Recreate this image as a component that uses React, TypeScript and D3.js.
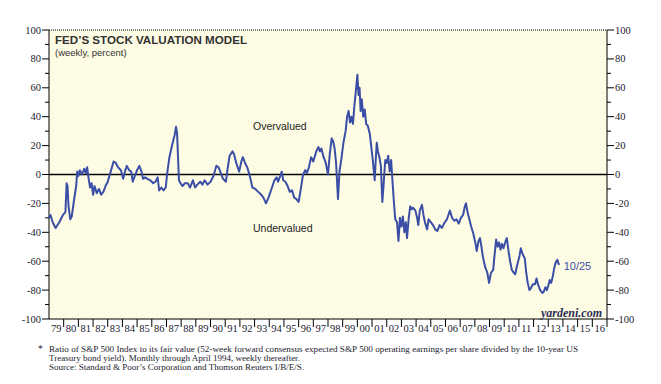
import React from 'react';
import * as d3 from 'd3';

// Fed's stock valuation model: ratio of S&P 500 to fair value, percent
const dates = [
  1979.0, 1979.1, 1979.25, 1979.45, 1979.7, 1979.95, 1980.12, 1980.2, 1980.26, 1980.33,
  1980.45, 1980.55, 1980.7, 1980.85, 1980.92, 1981.0, 1981.1, 1981.25, 1981.4, 1981.5,
  1981.6, 1981.7, 1981.8, 1981.9, 1982.0, 1982.1, 1982.25, 1982.4, 1982.55, 1982.7,
  1982.85, 1983.0, 1983.2, 1983.4, 1983.55, 1983.7, 1983.9, 1984.05, 1984.2, 1984.3,
  1984.45, 1984.6, 1984.7, 1984.85, 1985.0, 1985.15, 1985.3, 1985.4, 1985.55, 1985.7,
  1985.9, 1986.1, 1986.25, 1986.4, 1986.5, 1986.65, 1986.8, 1986.95, 1987.05, 1987.2,
  1987.4, 1987.55, 1987.65, 1987.72, 1987.85, 1987.95, 1988.1, 1988.25, 1988.45, 1988.6,
  1988.8, 1988.95, 1989.1, 1989.3, 1989.45, 1989.6, 1989.8, 1990.0, 1990.2, 1990.4,
  1990.55, 1990.7, 1990.85, 1991.05, 1991.15, 1991.3, 1991.5, 1991.6, 1991.75, 1991.95,
  1992.1, 1992.2, 1992.35, 1992.5, 1992.7, 1992.85, 1993.05, 1993.25, 1993.45, 1993.6,
  1993.78, 1993.95, 1994.15, 1994.35, 1994.5, 1994.6, 1994.75, 1994.85, 1994.95, 1995.1,
  1995.25, 1995.4, 1995.55, 1995.7, 1995.85, 1996.0, 1996.15, 1996.3, 1996.45, 1996.55,
  1996.7, 1996.85, 1997.0, 1997.2, 1997.35, 1997.45, 1997.55, 1997.7, 1997.85, 1998.0,
  1998.12, 1998.25, 1998.35, 1998.45, 1998.55, 1998.68, 1998.78, 1998.9, 1999.05, 1999.2,
  1999.3, 1999.4, 1999.5, 1999.6, 1999.7, 1999.8, 1999.9, 2000.0, 2000.08, 2000.15,
  2000.22, 2000.3, 2000.4, 2000.5, 2000.6, 2000.7, 2000.85, 2000.95, 2001.05, 2001.18,
  2001.25, 2001.32, 2001.4, 2001.5, 2001.6, 2001.7, 2001.78, 2001.9, 2002.0, 2002.1,
  2002.2, 2002.3, 2002.4, 2002.48, 2002.58, 2002.7, 2002.8, 2002.9, 2003.0, 2003.1,
  2003.2, 2003.3, 2003.38, 2003.5, 2003.6, 2003.7, 2003.8, 2003.95, 2004.05, 2004.15,
  2004.25, 2004.4, 2004.5, 2004.6, 2004.75, 2004.85, 2005.0, 2005.15, 2005.3, 2005.45,
  2005.6, 2005.75, 2005.9, 2006.1, 2006.3, 2006.45, 2006.6, 2006.75, 2006.9, 2007.05,
  2007.2, 2007.32, 2007.4, 2007.5, 2007.6, 2007.75, 2007.9, 2008.05, 2008.13, 2008.25,
  2008.35, 2008.45, 2008.55, 2008.7, 2008.85, 2008.97, 2009.1, 2009.25, 2009.35, 2009.45,
  2009.55, 2009.65, 2009.75, 2009.85, 2009.95, 2010.1, 2010.18, 2010.28, 2010.4, 2010.52,
  2010.65, 2010.75, 2010.85, 2010.95, 2011.05, 2011.13, 2011.25, 2011.4, 2011.5, 2011.6,
  2011.72, 2011.85, 2011.95, 2012.1, 2012.2, 2012.3, 2012.45, 2012.6, 2012.7, 2012.8,
  2012.9, 2013.0, 2013.1, 2013.2, 2013.3, 2013.4, 2013.5, 2013.62, 2013.7, 2013.78,
];

const ratio = [
  -30, -28, -33, -37, -33, -28, -26, -6, -8, -22,
  -31, -29, -18, -8, 2, -1, 3, 0, 4, 1,
  5, -3, -9, -6, -14, -8, -13, -10, -14, -12,
  -8, -5, 2, 9, 8, 5, 3, -3, 3, 6,
  3, 2, -5, -1, 3, 6, 2, -3, -2, -3,
  -4, -6, -5, -2, -11, -9, -11, -9, 1, 12,
  21, 27, 33, 29, -4, -6, -8, -6, -6, -9,
  -4, -9, -7, -5, -7, -4, -7, -5, -1, 6,
  5, 1, -3, -5, 3, 13, 16, 14, 8, 2,
  9, 12, 8, 5, -2, -9, -10, -12, -14, -16,
  -20, -16, -10, -4, -2, -5, -1, 2, -4, -5,
  -8, -12, -11, -16, -17, -19, -10, 0, 3, 1,
  5, 12, 9, 16, 19, 16, 18, 12, 8, 0,
  14, 25, 23, 18, 8, -17, 2, 10, 22, 30,
  40, 44, 36, 40, 35, 48, 58, 69, 55, 60,
  44, 52, 40, 45, 35, 34, 28, 19, 10, -4,
  10, 22, 16, 12, 6, -19, -8, 10, 8, 13,
  2, 10, -6, -18, -31, -33, -46, -30, -36, -29,
  -40, -33, -44, -30, -22, -24, -23, -25, -29, -35,
  -25, -21, -28, -33, -38, -31, -33, -35, -38, -39,
  -35, -37, -34, -31, -25, -30, -32, -31, -34, -30,
  -28, -22, -20, -26, -30, -36, -41, -48, -53, -46,
  -44, -50, -57, -64, -68, -75, -68, -66, -55, -45,
  -50, -47, -52, -48, -51, -46, -44, -52, -60, -66,
  -68, -69, -64, -60, -56, -51, -55, -58, -68, -75,
  -80, -78, -76, -76, -72, -76, -80, -82, -81, -78,
  -80, -77, -73, -75, -71, -65, -61, -59, -62, -62,
];

const yearLabels = [
  '79', '80', '81', '82', '83', '84', '85', '86', '87', '88', '89', '90', '91',
  '92', '93', '94', '95', '96', '97', '98', '99', '00', '01', '02', '03', '04',
  '05', '06', '07', '08', '09', '10', '11', '12', '13', '14', '15', '16',
];

const footnote = [
  'Ratio of S&P 500 Index to its fair value (52-week forward consensus expected S&P 500 operating earnings per share divided by the 10-year US',
  'Treasury bond yield). Monthly through April 1994, weekly thereafter.',
  'Source: Standard & Poor\u2019s Corporation and Thomson Reuters I/B/E/S.',
];

const W = 661;
const H = 384;
const left = 49;
const right = 607;
const top = 30;
const bottom = 319;
const lineColor = '#3b4ea6';
const serif = '"Liberation Serif", "DejaVu Serif", serif';
const sans = '"Liberation Sans", Arial, sans-serif';

export default function App() {
  const x = d3.scaleLinear().domain([1979, 2017]).range([left, right]);
  const y = d3.scaleLinear().domain([-100, 100]).range([bottom, top]);

  const points = dates.map((d, i) => [d, ratio[i]] as [number, number]);
  const line = d3.line<[number, number]>()
    .x(d => x(d[0]))
    .y(d => y(d[1]));

  const majorTicks = d3.range(-100, 101, 20);
  const minorTicks = d3.range(-90, 100, 20);
  const yearEdges = d3.range(1980, 2018);

  return (
    <svg width={W} height={H} style={{ position: 'absolute', left: 0, top: 0, background: '#fff' }}>
      <defs>
        <pattern id="dots" width="4" height="4" patternUnits="userSpaceOnUse">
          <rect width="4" height="4" fill="#fffee2" />
          <rect x="0" y="0" width="1" height="1" fill="#eaf3f2" />
          <rect x="2" y="2" width="1" height="1" fill="#f8ecee" />
        </pattern>
      </defs>

      {/* plot background */}
      <rect x={left} y={top} width={right - left} height={bottom - top} fill="url(#dots)" />

      {/* frame */}
      <line x1={left} x2={right} y1={top} y2={top} stroke="#000" strokeWidth={1} strokeDasharray="1 1" />
      <line x1={left} x2={left} y1={top} y2={bottom} stroke="#000" strokeWidth={1} />
      <line x1={right} x2={right} y1={top} y2={bottom} stroke="#000" strokeWidth={1} />
      <line x1={left} x2={right} y1={bottom} y2={bottom} stroke="#000" strokeWidth={1} />

      {/* y ticks both sides */}
      {majorTicks.map(t => (
        <g key={'maj' + t}>
          <line x1={left - 7} x2={left} y1={y(t)} y2={y(t)} stroke="#000" />
          <line x1={right} x2={right + 7} y1={y(t)} y2={y(t)} stroke="#000" />
          <text x={left - 8} y={y(t) + 3.5} textAnchor="end" fontFamily={serif} fontSize={10.5} fill="#1a1a2e">{t}</text>
          <text x={right + 8} y={y(t) + 3.5} textAnchor="start" fontFamily={serif} fontSize={10.5} fill="#1a1a2e">{t}</text>
        </g>
      ))}
      {minorTicks.map(t => (
        <g key={'min' + t}>
          <line x1={left - 4} x2={left} y1={y(t)} y2={y(t)} stroke="#000" />
          <line x1={right} x2={right + 4} y1={y(t)} y2={y(t)} stroke="#000" />
        </g>
      ))}

      {/* x ticks and year labels */}
      {yearEdges.map(e => (
        <line key={'xe' + e} x1={x(e)} x2={x(e)} y1={bottom} y2={bottom + 8} stroke="#000" />
      ))}
      {yearLabels.map((lab, i) => (
        <text key={'yl' + lab} x={x(1979 + i + 0.5)} y={bottom + 13} textAnchor="middle" fontFamily={serif} fontSize={10.5} fill="#1a1a2e">{lab}</text>
      ))}

      {/* zero line */}
      <line x1={left} x2={right} y1={y(0)} y2={y(0)} stroke="#000" strokeWidth={1.3} />

      {/* series */}
      <path d={line(points) ?? ''} fill="none" stroke={lineColor} strokeWidth={2} strokeLinejoin="round" />

      {/* titles and annotations */}
      <text x={55} y={43.5} fontFamily={sans} fontWeight="bold" fontSize={11.5} fill="#333" textLength={192} lengthAdjust="spacingAndGlyphs">FED’S STOCK VALUATION MODEL</text>
      <text x={55} y={55.5} fontFamily={sans} fontSize={9.5} fill="#333">(weekly, percent)</text>
      <text x={253} y={129.5} fontFamily={sans} fontSize={10.5} fill="#222">Overvalued</text>
      <text x={253} y={232} fontFamily={sans} fontSize={10.5} fill="#222">Undervalued</text>
      <text x={x(2013.78) + 4} y={270} fontFamily={sans} fontSize={11} fill={lineColor}>10/25</text>
      <text x={602} y={317} textAnchor="end" fontFamily={serif} fontStyle="italic" fontWeight="bold" fontSize={12} fill="#2b2b55">yardeni.com</text>

      {/* footnote */}
      <text x={38} y={352} fontFamily={serif} fontSize={9.5} fill="#1a1a2e">*</text>
      {footnote.map((f, i) => (
        <text key={'fn' + i} x={49} y={352 + i * 9} fontFamily={serif} fontSize={9} fill="#1a1a2e"
          textLength={i === 0 ? 529 : undefined} lengthAdjust="spacingAndGlyphs">{f}</text>
      ))}
    </svg>
  );
}
